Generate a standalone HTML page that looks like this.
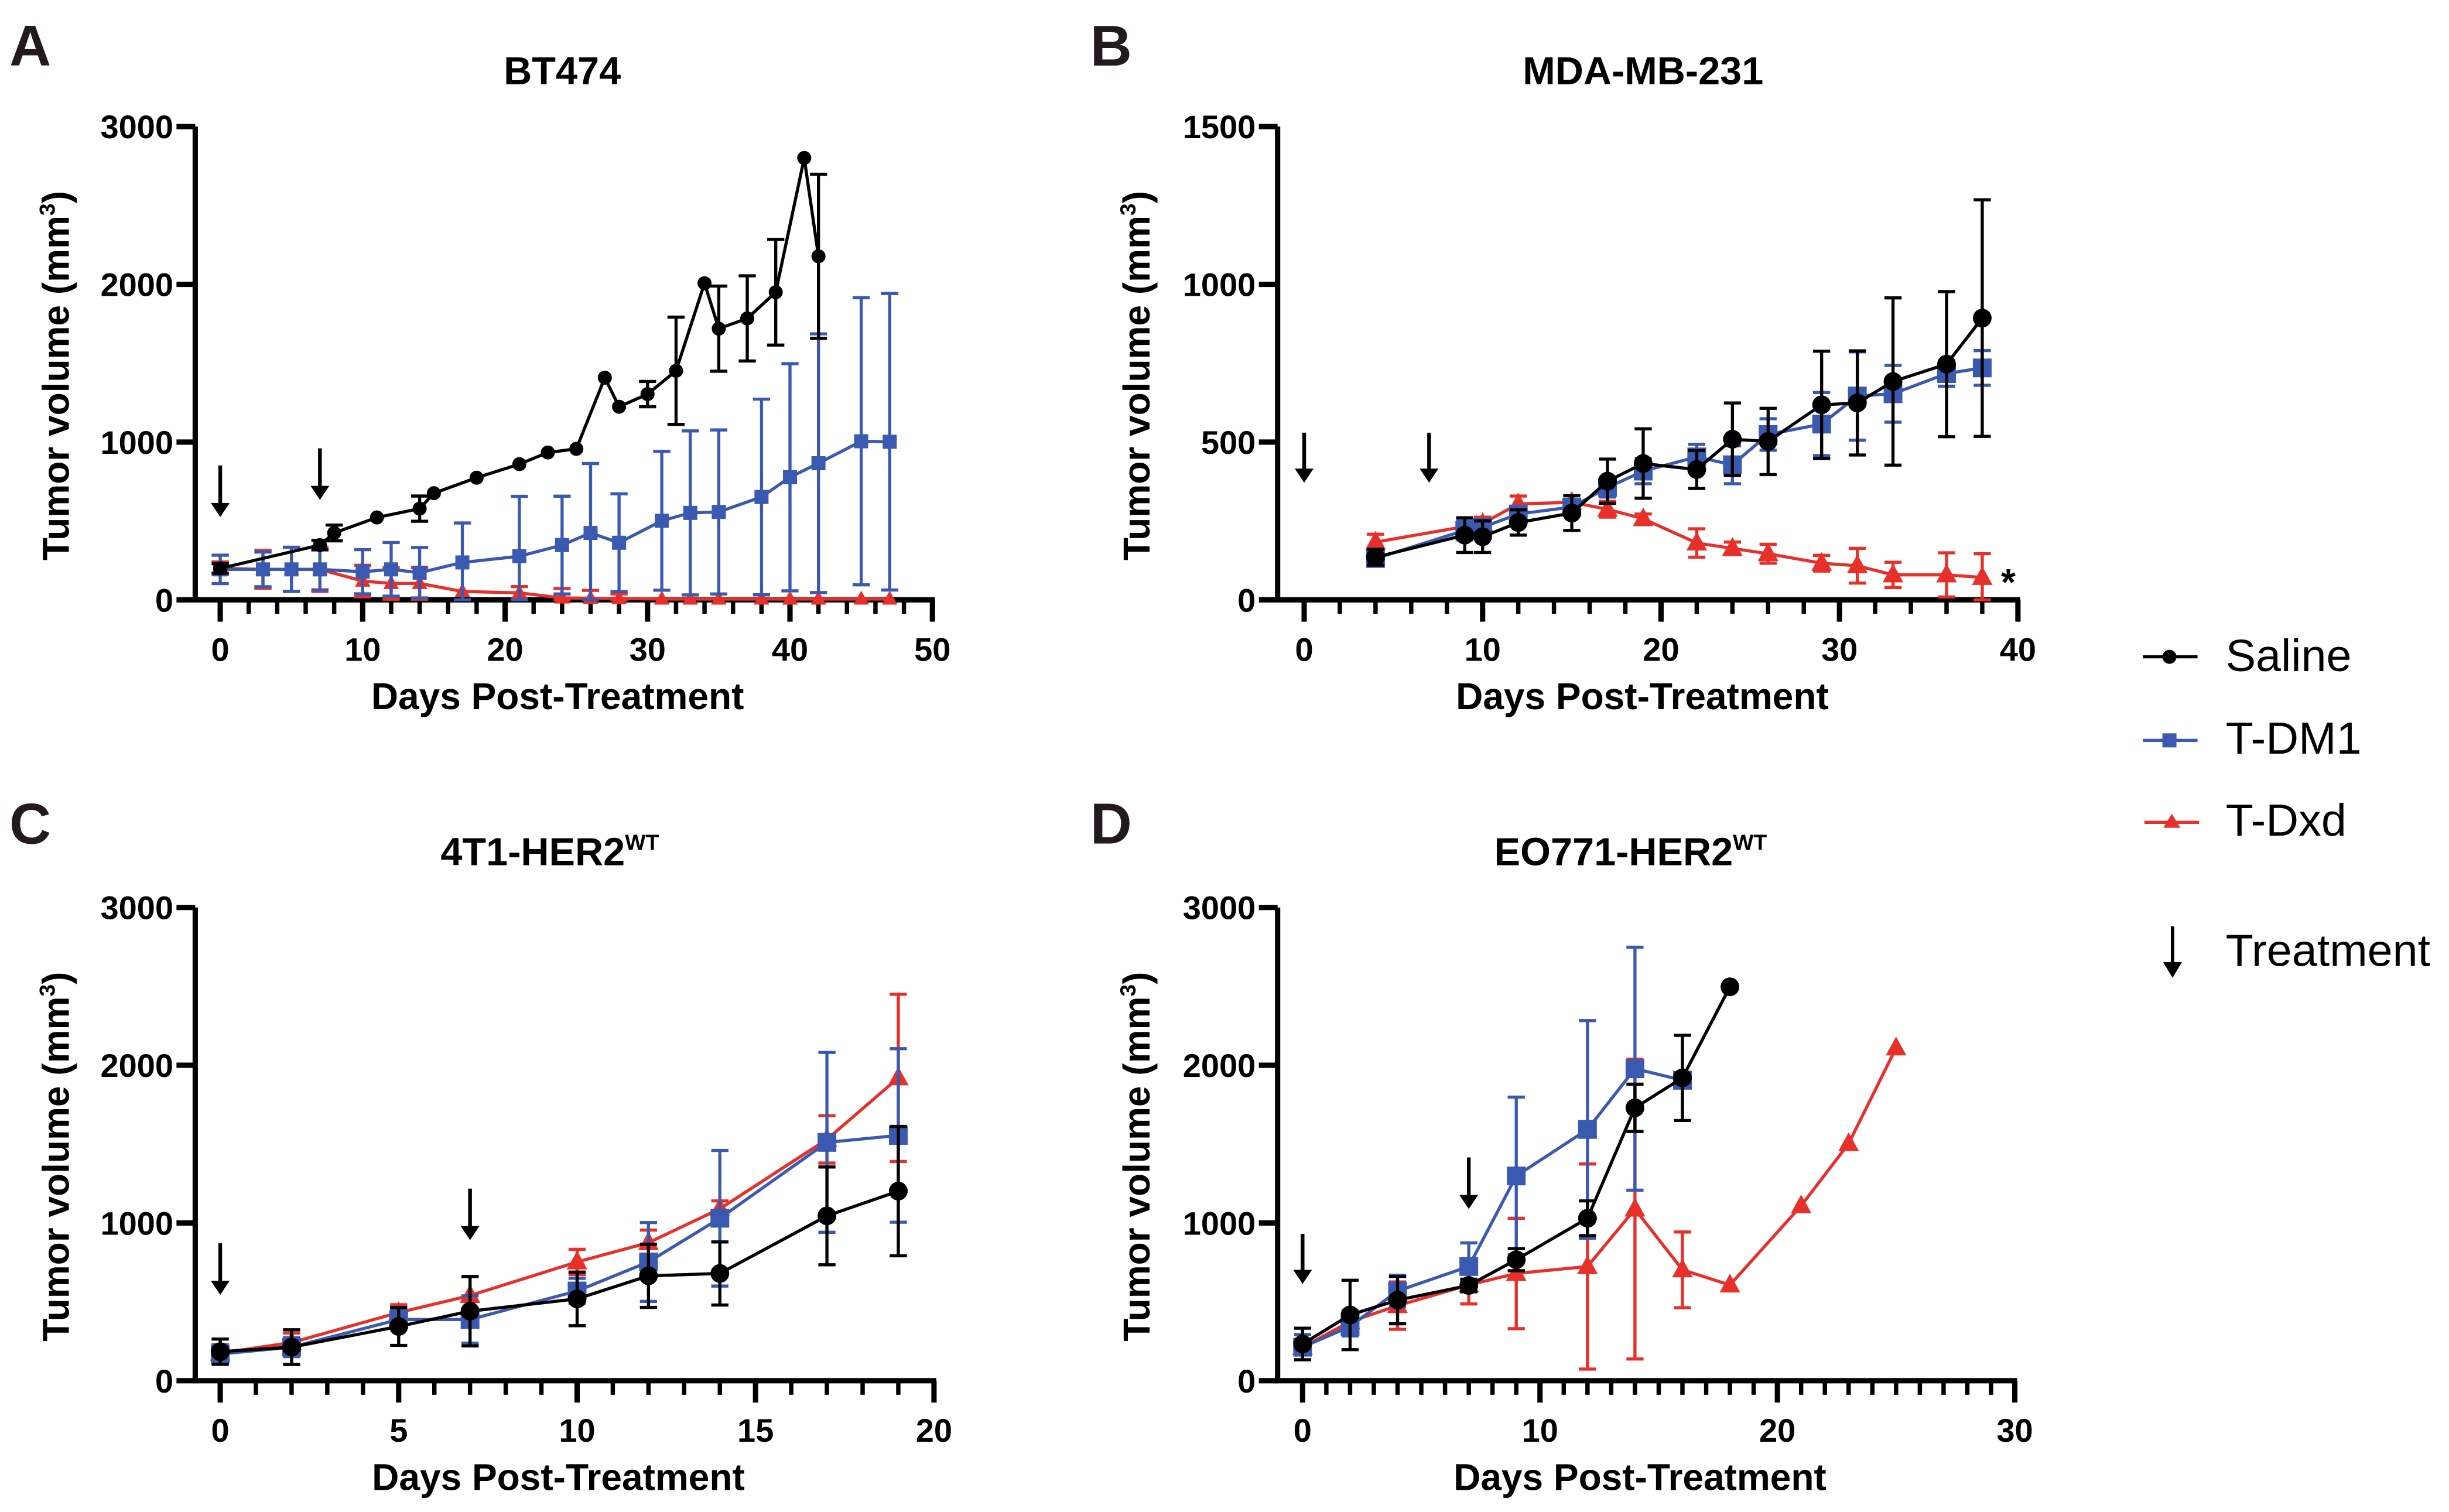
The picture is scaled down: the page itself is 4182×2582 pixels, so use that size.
<!DOCTYPE html>
<html><head><meta charset="utf-8"><style>
html,body{margin:0;padding:0;background:#fff}
svg{display:block}
svg text{font-family:"Liberation Sans",Arial,sans-serif}
</style></head><body>
<svg id="fig" xmlns="http://www.w3.org/2000/svg" width="4182" height="2582" viewBox="0 0 1568 968" font-family="Liberation Sans, Arial, sans-serif">
<g id="legend">
 <g>
  <line x1="1372" y1="420.5" x2="1407" y2="420.5" stroke="#000" stroke-width="2"/>
  <circle cx="1389" cy="420.5" r="4.5" fill="#000"/>
  <text x="1425" y="429.6" font-size="29">Saline</text></g>
 <g>
  <line x1="1372" y1="474" x2="1407" y2="474" stroke="#3a59b0" stroke-width="2"/>
  <rect x="1384.5" y="469.5" width="9" height="9" fill="#3a59b0"/>
  <text x="1425" y="482.5" font-size="29">T-DM1</text></g>
 <g>
  <line x1="1373" y1="526.5" x2="1408" y2="526.5" stroke="#e8302a" stroke-width="2"/>
  <polygon points="1390.5,521 1396,530 1385,530" fill="#e8302a"/>
  <text x="1425" y="535" font-size="29">T-Dxd</text></g>
 <g>
  <line x1="1391" y1="593" x2="1391" y2="618" stroke="#000" stroke-width="2.2"/>
  <polygon points="1385,616 1397,616 1391,626" fill="#000"/>
  <text x="1425" y="618.5" font-size="29">Treatment</text></g>
</g>
</svg>
<script>
// ---- Panel A (BT474) data ----
const aSalDays=[0,7,8,11,14,15,18,21,23,25,27,28,30,32,34,35,37,39,41,42];
const aSalVals=[199,347,424,522,578,676,774,860,934,957,1408,1224,1304,1452,2007,1719,1784,1950,2801,2178];
const aSalErr=[30,30,50,0,80,0,0,0,0,0,0,0,80,340,0,270,270,335,0,520];
const aDm1Days=[0,3,5,7,10,12,14,17,21,24,26,28,31,33,35,38,40,42,45,47];
const aDm1Vals=[193,193,193,193,178,193,172,237,276,347,424,362,501,551,557,652,777,866,1005,1002];
const aDm1Err=[90,110,140,130,140,170,160,250,380,310,440,310,440,520,520,620,720,820,910,940];
const aDxdDays=[0,3,5,7,10,12,14,17,21,24,26,28,31,33,35,38,40,42,45,47];
const aDxdVals=[200,193,193,193,119,104,104,53,44,12,10,8,5,5,5,5,5,5,5,5];
const aDxdErr=[40,120,140,140,100,100,100,0,40,60,50,30,0,0,0,0,0,0,0,0];
// ---- Panel B (MDA-MB-231) ----
const bSalDays=[4,9,10,12,15,17,19,22,24,26,29,31,33,36,38];
const bSalVals=[135,205,200,245,275,376,432,413,509,502,618,624,692,747,893];
const bSalErr=[25,55,50,40,55,70,110,60,115,105,170,165,265,230,375];
const bDm1Days=[4,9,10,12,15,17,19,22,24,26,29,31,33,36,38];
const bDm1Vals=[131,220,230,272,294,356,408,453,428,524,557,646,653,717,735];
const bDm1Err=[20,30,25,20,20,30,40,40,60,50,100,140,90,40,55];
const bDxdDays=[4,10,12,15,17,19,22,24,26,29,31,33,36,38];
const bDxdVals=[183,242,304,309,287,257,180,163,146,116,108,79,79,71];
const bDxdErr=[25,20,25,10,25,15,45,20,30,25,55,40,70,75];
// ---- Panel C (4T1-HER2WT) ----
const cSalDays=[0,2,5,7,10,12,14,17,19];
const cSalVals=[184,213,344,441,519,665,680,1045,1202];
const cSalErr=[80,110,120,220,170,200,200,310,410];
const cDm1Days=[0,2,5,7,10,12,14,17,19];
const cDm1Vals=[169,213,388,388,569,753,1030,1511,1555];
const cDm1Err=[60,60,60,150,80,250,430,570,550];
const cDxdDays=[0,2,5,7,10,12,14,17,19];
const cDxdVals=[175,242,432,540,753,875,1090,1530,1920];
const cDxdErr=[50,60,50,120,80,80,50,150,530];
// ---- Panel D (EO771-HER2WT) ----
const dSalDays=[0,2,4,7,9,12,14,16,18];
const dSalVals=[233,417,511,604,767,1030,1730,1920,2497];
const dSalErr=[100,220,150,40,70,110,150,270,0];
const dDm1Days=[0,2,4,7,9,12,14,16];
const dDm1Vals=[213,344,569,724,1298,1593,1978,1905];
const dDm1Err=[80,60,100,150,500,690,770,50];
const dDxdDays=[0,2,4,7,9,12,14,16,18,21,23,25];
const dDxdVals=[213,374,476,607,680,724,1088,703,607,1109,1503,2110];
const dDxdErr=[50,70,150,120,350,650,950,240,0,0,0,0];
// ---- axis tick labels ----
const aXTicks=[0,10,20,30,40,50]; const aYTicks=[0,1000,2000,3000];
const bXTicks=[0,10,20,30,40]; const bYTicks=[0,500,1000,1500];
const cXTicks=[0,5,10,15,20]; const cYTicks=[0,1000,2000,3000];
const dXTicks=[0,10,20,30]; const dYTicks=[0,1000,2000,3000];
const treatDays=[0,7];

const NS='http://www.w3.org/2000/svg';
const svg=document.getElementById('fig');
const BLK='#000',BLU='#3a59b0',RED='#e8302a';
function mk(tag,attrs,parent){const e=document.createElementNS(NS,tag);for(const k in attrs)e.setAttribute(k,attrs[k]);parent.appendChild(e);return e;}

function panel(cfg){
  const g=mk('g',{},svg);
  
  
  const X=d=>cfg.x0+(d-0)/(cfg.xmax)*(cfg.x1-cfg.x0);
  const Y=v=>cfg.y0-(v/cfg.ymax)*(cfg.y0-cfg.y1);
  const L=mk('text',{x:cfg.lx,y:cfg.ly,'font-size':37,'font-weight':'bold',fill:'#231a20'},g);L.textContent=cfg.letter;
  
  
  const T=mk('text',{x:cfg.tx,y:cfg.ty,'font-size':25,'font-weight':'bold','text-anchor':'middle'},g);
  
  
  T.textContent=cfg.title;
  if(cfg.sup){const s=mk('tspan',{'font-size':14,dy:-10},T);s.textContent=cfg.sup;}
  const ax=mk('g',{},g);
  
  
  mk('line',{x1:cfg.ax,y1:Y(cfg.ymax),x2:cfg.ax,y2:cfg.y0+1.5,stroke:'#000','stroke-width':3.4},ax);
  mk('line',{x1:cfg.ax-1.5,y1:cfg.y0,x2:cfg.x1+1.5,y2:cfg.y0,stroke:'#000','stroke-width':3.4},ax);
  for(let d=0;d<=cfg.xmax+1e-9;d+=cfg.minor){
    const major=cfg.xticks.some(t=>Math.abs(t-d)<1e-9);
    mk('line',{x1:X(d),y1:cfg.y0,x2:X(d),y2:cfg.y0+(major?14:9),stroke:'#000','stroke-width':major?3.4:2.8},ax);
  }
  cfg.xticks.forEach(t=>{const e=mk('text',{x:X(t),y:cfg.y0+39,'font-size':21,'font-weight':'bold','text-anchor':'middle'},ax);e.textContent=t;
    
    });
  cfg.yticks.forEach(t=>{mk('line',{x1:cfg.ax-12,y1:Y(t),x2:cfg.ax,y2:Y(t),stroke:'#000','stroke-width':3.4},ax);
    const e=mk('text',{x:cfg.ax-14,y:Y(t)+7.5,'font-size':21,'font-weight':'bold','text-anchor':'end'},ax);e.textContent=t;
    
    });
  const xt=mk('text',{x:(cfg.x0+cfg.x1)/2-12,y:cfg.y0+70,'font-size':24,'font-weight':'bold','text-anchor':'middle'},ax);
  xt.textContent='Days Post-Treatment';
  
  
  const yc=(Y(cfg.ymax)+cfg.y0)/2+8;
  const yt=mk('text',{x:0,y:0,'font-size':24,'font-weight':'bold','text-anchor':'middle',transform:`translate(${cfg.ytx},${yc}) rotate(-90)`},ax);
  
  
  yt.appendChild(document.createTextNode('Tumor volume (mm'));
  const s3=mk('tspan',{'font-size':14,dy:-9},yt);s3.textContent='3';
  const s4=mk('tspan',{dy:9},yt);s4.textContent=')';
  treatDays.forEach((d,i)=>{const a=mk('g',{},g);
    
    
    const [t,b]=cfg.arrows[i];
    mk('line',{x1:X(d),y1:t,x2:X(d),y2:b-6,stroke:'#000','stroke-width':2.4},a);
    mk('polygon',{points:`${X(d)-6},${b-9} ${X(d)+6},${b-9} ${X(d)},${b}`,fill:'#000'},a);});
  cfg.series.forEach(s=>{
    const sg=mk('g',{},g);
    
    
    s.days.forEach((d,i)=>{const e=s.err[i];if(e<=0)return;
      const x=X(d),yt=Y(s.vals[i]+e),yb=Y(Math.max(0,s.vals[i]-e));
      mk('line',{x1:x,y1:yt,x2:x,y2:yb,stroke:s.color,'stroke-width':2},sg);
      mk('line',{x1:x-5.5,y1:yt,x2:x+5.5,y2:yt,stroke:s.color,'stroke-width':2},sg);
      mk('line',{x1:x-5.5,y1:yb,x2:x+5.5,y2:yb,stroke:s.color,'stroke-width':2},sg);});
    const pts=s.days.map((d,i)=>X(d)+','+Y(s.vals[i])).join(' ');
    const pl=mk('polyline',{points:pts,fill:'none',stroke:s.color,'stroke-width':2},sg);
    
    
    s.days.forEach((d,i)=>{const x=X(d),y=Y(s.vals[i]);const r=cfg.ms;let m;
      if(s.shape==='c')m=mk('circle',{cx:x,cy:y,r:r,fill:s.color},sg);
      else if(s.shape==='s')m=mk('rect',{x:x-r,y:y-r,width:2*r,height:2*r,fill:s.color},sg);
      else m=mk('polygon',{points:`${x},${y-r*1.2} ${x+r*1.1},${y+r*0.8} ${x-r*1.1},${y+r*0.8}`,fill:s.color},sg);
      
      });
  });
  if(cfg.star){const st=mk('text',{x:X(38)+12,y:Y(55)+8,'font-size':24,'font-weight':'bold'},g);st.textContent='*';
    
    }
}
function S(name,days,vals,err,color,shape){return {name,days,vals,err,color,shape};}

panel({id:'bt474',letter:'A',lx:6,ly:42,title:'BT474',tx:360,ty:54,ax:125,x0:141,x1:597,xmax:50,y0:384,y1:81,ymax:3000,
  ytx:44,minor:2,xticks:aXTicks,yticks:aYTicks,ms:4.5,arrows:[[298,331],[287,320]],
  series:[S('tdxd',aDxdDays,aDxdVals,aDxdErr,RED,'t'),S('tdm1',aDm1Days,aDm1Vals,aDm1Err,BLU,'s'),S('saline',aSalDays,aSalVals,aSalErr,BLK,'c')]});
panel({id:'mda-mb-231',letter:'B',lx:698,ly:42,title:'MDA-MB-231',tx:1052,ty:54,ax:818,x0:835,x1:1292,xmax:40,y0:384,y1:81,ymax:1500,
  ytx:736,minor:2,xticks:bXTicks,yticks:bYTicks,ms:6,arrows:[[277,309],[277,309]],star:true,
  series:[S('tdxd',bDxdDays,bDxdVals,bDxdErr,RED,'t'),S('tdm1',bDm1Days,bDm1Vals,bDm1Err,BLU,'s'),S('saline',bSalDays,bSalVals,bSalErr,BLK,'c')]});
panel({id:'4t1-her2wt',letter:'C',lx:6,ly:540,title:'4T1-HER2',sup:'WT',tx:352,ty:554,ax:125,x0:141,x1:598,xmax:20,y0:884,y1:581,ymax:3000,
  ytx:44,minor:1,xticks:cXTicks,yticks:cYTicks,ms:6,arrows:[[796,829],[761,794]],
  series:[S('tdxd',cDxdDays,cDxdVals,cDxdErr,RED,'t'),S('tdm1',cDm1Days,cDm1Vals,cDm1Err,BLU,'s'),S('saline',cSalDays,cSalVals,cSalErr,BLK,'c')]});
panel({id:'eo771-her2wt',letter:'D',lx:698,ly:540,title:'EO771-HER2',sup:'WT',tx:1044,ty:554,ax:818,x0:834,x1:1290,xmax:30,y0:884,y1:581,ymax:3000,
  ytx:736,minor:1,xticks:dXTicks,yticks:dYTicks,ms:6,arrows:[[790,822],[741,774]],
  series:[S('tdxd',dDxdDays,dDxdVals,dDxdErr,RED,'t'),S('tdm1',dDm1Days,dDm1Vals,dDm1Err,BLU,'s'),S('saline',dSalDays,dSalVals,dSalErr,BLK,'c')]});
</script>
</body></html>
